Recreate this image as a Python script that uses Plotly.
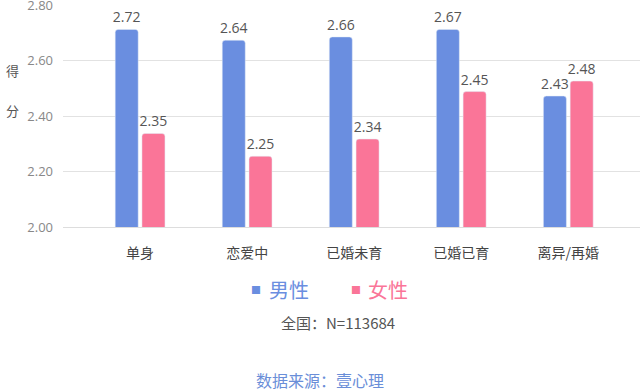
import plotly.graph_objects as go

categories = ["单身", "恋爱中", "已婚未育", "已婚已育", "离异/再婚"]
male_values = [2.712, 2.673, 2.685, 2.712, 2.472]
female_values = [2.337, 2.255, 2.317, 2.488, 2.526]
male_labels = ["2.72", "2.64", "2.66", "2.67", "2.43"]
female_labels = ["2.35", "2.25", "2.34", "2.45", "2.48"]
y_ticks = [2.00, 2.20, 2.40, 2.60, 2.80]
y_tick_labels = ["2.00", "2.20", "2.40", "2.60", "2.80"]

BLUE = "#6A8EE0"
PINK = "#FA7598"
NUMFONT = "'Open Sans', 'Noto Sans CJK SC', sans-serif"
CJK = "'Noto Sans CJK SC', sans-serif"

fig = go.Figure()
fig.add_trace(go.Bar(
    x=categories, y=male_values, name="男性", marker=dict(color=BLUE, cornerradius=3),
    text=male_labels, textposition="outside", cliponaxis=False, constraintext="none",
    textfont=dict(family=NUMFONT, size=14, color="#555555"),
))
fig.add_trace(go.Bar(
    x=categories, y=female_values, name="女性", marker=dict(color=PINK, cornerradius=3),
    text=female_labels, textposition="outside", cliponaxis=False, constraintext="none",
    textfont=dict(family=NUMFONT, size=14, color="#555555"),
))

fig.update_layout(
    width=640, height=392,
    margin=dict(l=63, r=0, t=5, b=165, autoexpand=False),
    paper_bgcolor="white", plot_bgcolor="white",
    barmode="group", bargap=0.5, bargroupgap=0.14,
    showlegend=False,
    font=dict(family=CJK, color="#555555"),
    xaxis=dict(
        range=[-0.72, 4.67], showgrid=False, ticks="", showline=True,
        linecolor="#dddddd", linewidth=1,
        tickfont=dict(family=CJK, size=14, color="#444444"),
        ticklabelstandoff=13,
    ),
    yaxis=dict(
        range=[2.0, 2.8], tickvals=y_ticks, ticktext=y_tick_labels,
        showgrid=True, gridcolor="#e2e2e2", gridwidth=1, zeroline=False,
        ticks="", ticklabelstandoff=9, ticklabeloverflow="allow",
        tickfont=dict(family=NUMFONT, size=13, color="#888888"),
    ),
)

def px(xv, yv):
    return (xv - 63) / 577, (392 - yv - 165) / 222

def add_text(text, xv, yv, size, color, xanchor="center"):
    x, y = px(xv, yv)
    fig.add_annotation(text=text, x=x, y=y, xref="paper", yref="paper", showarrow=False,
                       xanchor=xanchor, yanchor="middle",
                       font=dict(family=CJK, size=size, color=color))

add_text("得", 12, 70, 13, "#555555")
add_text("分", 12, 110, 13, "#555555")
add_text("■", 256, 289, 10, BLUE)
add_text("男性", 267, 289, 20, BLUE, xanchor="left")
add_text("■", 355.5, 289, 10, PINK)
add_text("女性", 366, 289, 20, PINK, xanchor="left")
add_text("全国：N=113684", 338, 322, 15, "#555555")
add_text("数据来源：壹心理", 320, 380, 16, "#6A8ED8")

fig.write_html("out.html", config={"displayModeBar": False},
               post_script="document.body.style.margin='0px';document.body.style.overflow='hidden';")
